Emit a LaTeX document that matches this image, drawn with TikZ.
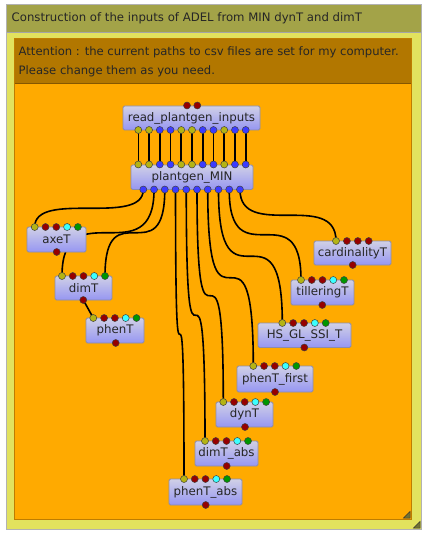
\documentclass[tikz,border=0pt]{standalone}
\usepackage{fontspec}
\setmainfont{DejaVu Sans}
\usetikzlibrary{calc}
\pgfdeclarelayer{bg}
\pgfdeclarelayer{wires}
\pgfsetlayers{bg,wires,main}
\definecolor{titleolive}{RGB}{163,163,72}
\definecolor{frameyel}{RGB}{226,226,94}
\definecolor{hdrbrown}{RGB}{178,119,0}
\definecolor{orangebg}{RGB}{255,170,0}
\definecolor{innerline}{RGB}{190,125,0}
\definecolor{po}{RGB}{180,180,20}
\definecolor{pr}{RGB}{150,0,0}
\definecolor{pb}{RGB}{60,60,255}
\definecolor{pc}{RGB}{60,255,255}
\definecolor{pg}{RGB}{0,150,0}
\definecolor{nodetop}{RGB}{208,208,230}
\definecolor{nodebot}{RGB}{150,150,242}
\definecolor{nodeline}{RGB}{140,140,170}
\tikzset{
  oabox/.style={draw=nodeline, line width=0.8pt, rounded corners=1.5pt, top color=nodetop, bottom color=nodebot, inner sep=0pt, font=\fontsize{11.8}{13}\selectfont, text=black!85},
  port/.style={circle, draw=black!75, line width=0.5pt, minimum size=7pt, inner sep=0pt},
  wire/.style={draw=black, line width=1.6pt, to path={let \p1=(\tikztostart), \p2=(\tikztotarget) in .. controls (\x1,\y2) and (\x2,\y1) .. (\tikztotarget)}},
  txt/.style={anchor=west, inner sep=0pt, text=black!85},
}
\newcommand\oanode[6]{%
  \node[oabox, minimum width={#4-#2}, minimum height={#5-#3}] (#1) at ({(#2+#4)/2},{(#3+#5)/2}) {#6};}
\newcommand\oaports[5]{%
  \foreach \c [count=\i] in {#5} {\node[port, fill=\c] (#1\i) at ({#2+(\i-1)*#3},#4) {};}}
\begin{document}
\begin{tikzpicture}[x=1pt,y=-1pt]
\useasboundingbox (0,0) rectangle (429,534);
\begin{pgfonlayer}{bg}
  \fill[frameyel] (6,4) rectangle (421,529);
  \fill[titleolive] (6,4) rectangle (421,32);
  \draw[black!35, line width=0.6pt] (6,32) -- (421,32);
  \draw[black!30, line width=0.8pt] (6,4) rectangle (421,529);
  \fill[orangebg] (14,38) rectangle (411,519);
  \fill[hdrbrown] (14,38) rectangle (411,83);
  \draw[innerline!70!black, line width=0.6pt] (14,83) -- (411,83);
  \draw[innerline, line width=0.8pt] (14,38) rectangle (411,519);
  \filldraw[fill=titleolive!70!black, draw=black!80, line width=0.5pt] (403.5,518) -- (410,511.5) -- (410,518) -- cycle;
  \filldraw[fill=titleolive!70!black, draw=black!80, line width=0.5pt] (413.5,528) -- (420,521.5) -- (420,528) -- cycle;
\end{pgfonlayer}
\node[txt, font=\fontsize{11.7}{13}\selectfont] (title) at (11.5,18) {Construction of the inputs of ADEL from MIN dynT and dimT};
\node[txt, font=\fontsize{11.6}{13}\selectfont] (att1) at (18.5,52) {Attention : the current paths to csv files are set for my computer.};
\node[txt, font=\fontsize{11.6}{13}\selectfont] (att2) at (18.5,71) {Please change them as you need.};
% nodes
\oanode{read}{123}{106}{260}{130}{read\_plantgen\_inputs}
\oanode{pmin}{131}{165}{253}{189.5}{plantgen\_MIN}
\oanode{axe}{27}{227}{86}{252}{axeT}
\oanode{dim}{55}{276}{112}{300}{dimT}
\oanode{phen}{86}{318}{144}{343}{phenT}
\oanode{card}{314}{241}{391}{265}{cardinalityT}
\oanode{till}{291}{280}{354}{305}{tilleringT}
\oanode{hs}{258}{323}{351}{347.5}{HS\_GL\_SSI\_T}
\oanode{phf}{237}{366}{313}{392}{phenT\_first}
\oanode{dyn}{216}{402}{273}{427}{dynT}
\oanode{dimabs}{195}{441}{258}{466}{dimT\_abs}
\oanode{phabs}{169}{479}{242}{505}{phenT\_abs}
% ports
\oaports{rin}{187}{10.3}{105.5}{pr,pr}
\oaports{rout}{138.3}{10.74}{130}{po,po,pb,pb,po,po,pb,pb,po,pb,pb}
\oaports{minin}{138.3}{10.74}{164.5}{po,po,pb,pb,po,po,pb,pb,po,pb,pb}
\oaports{mout}{143.3}{10.74}{189.5}{pb,pb,pb,pb,pb,pb,pb,pb,pb,pb}
\oaports{axin}{34.7}{10.8}{227}{po,pr,pr,pc,pg}
\oaports{axout}{56.7}{0}{252}{pr}
\oaports{dimin}{62}{10.75}{276}{po,pr,pr,pc,pg}
\oaports{dimout}{83.3}{0}{300}{pr}
\oaports{phin}{93.3}{10.8}{318}{po,pr,pr,pc,pg}
\oaports{phout}{115.7}{0}{343}{pr}
\oaports{cardin}{336}{10.9}{241}{po,pr,pr,pr}
\oaports{cardout}{352.7}{0}{265}{pr}
\oaports{tilin}{301}{10.75}{280}{po,pr,pr,pc,pg}
\oaports{tilout}{322.3}{0}{305}{pr}
\oaports{hsin}{282.3}{10.85}{323}{po,pr,pr,pc,pg}
\oaports{hsout}{304.3}{0}{347.5}{pr}
\oaports{phfin}{253.3}{10.75}{366}{po,pr,pr,pc,pg}
\oaports{phfout}{275}{0}{392}{pr}
\oaports{dynin}{223.3}{10.7}{402}{po,pr,pr,pc,pg}
\oaports{dynout}{245}{0}{427}{pr}
\oaports{dimabsin}{205}{10.75}{441}{po,pr,pr,pc,pg}
\oaports{dimabsout}{226.7}{0}{466}{pr}
\oaports{phabsin}{184}{10.75}{479}{po,pr,pr,pc,pg}
\oaports{phabsout}{205.7}{0}{505}{pr}
% wires
\begin{pgfonlayer}{wires}
  \foreach \k in {1,...,11} {\draw[wire] (rout\k.center) to (minin\k.center);}
  \draw[wire] (mout1.center) to (axin1.center);
  \draw[wire] (mout2.center) to (dimin1.center);
  \draw[wire] (mout3.center) to (dimin5.center);
  \draw[wire] (mout4.center) to (phabsin1.center);
  \draw[wire] (mout5.center) to (dimabsin1.center);
  \draw[wire] (mout6.center) to (dynin1.center);
  \draw[wire] (mout7.center) to (phfin1.center);
  \draw[wire] (mout8.center) to (hsin1.center);
  \draw[wire] (mout9.center) to (tilin1.center);
  \draw[wire] (mout10.center) to (cardin1.center);
  \draw[wire] (dimout1.center) -- (phin1.center);
\end{pgfonlayer}
\end{tikzpicture}
\end{document}
